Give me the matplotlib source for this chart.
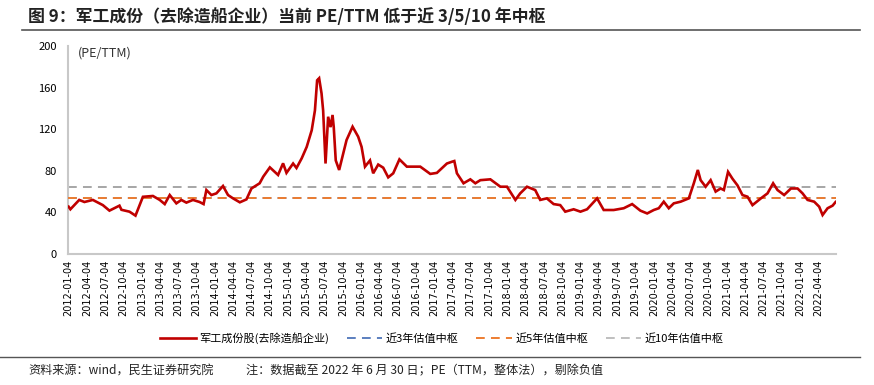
import matplotlib
matplotlib.use("Agg")
import matplotlib.pyplot as plt
import pandas as pd
from matplotlib.lines import Line2D

plt.rcParams['font.family'] = ['Noto Sans CJK SC', 'DejaVu Sans']

# ---------------- data ----------------
dates = [
    "2012-01-04", "2012-01-13", "2012-02-26", "2012-03-23", "2012-05-04", "2012-06-23",
    "2012-07-26", "2012-09-14", "2012-09-24", "2012-11-03", "2012-12-03", "2013-01-09",
    "2013-02-28", "2013-04-03", "2013-04-28", "2013-05-23", "2013-06-25", "2013-07-20",
    "2013-08-14", "2013-09-16", "2013-10-19", "2013-11-08", "2013-11-22", "2013-12-17",
    "2014-01-11", "2014-02-13", "2014-03-10", "2014-04-04", "2014-05-08", "2014-06-10",
    "2014-07-05", "2014-08-15", "2014-09-02", "2014-10-05", "2014-11-15", "2014-12-10",
    "2014-12-27", "2015-01-29", "2015-02-15", "2015-03-13", "2015-04-07", "2015-05-02",
    "2015-05-18", "2015-05-29", "2015-06-08", "2015-06-20", "2015-06-28", "2015-07-10",
    "2015-07-23", "2015-08-04", "2015-08-14", "2015-08-20", "2015-08-30", "2015-09-16",
    "2015-09-28", "2015-10-23", "2015-11-22", "2015-12-20", "2016-01-06", "2016-01-23",
    "2016-02-17", "2016-03-04", "2016-03-29", "2016-04-23", "2016-05-18", "2016-06-12",
    "2016-07-13", "2016-08-19", "2016-09-21", "2016-10-25", "2016-12-14", "2017-01-16",
    "2017-03-07", "2017-04-01", "2017-04-13", "2017-04-26", "2017-05-29", "2017-07-02",
    "2017-07-27", "2017-08-21", "2017-10-10", "2017-11-29", "2018-01-01", "2018-02-12",
    "2018-03-08", "2018-04-11", "2018-05-22", "2018-06-16", "2018-07-19", "2018-08-22",
    "2018-09-24", "2018-10-19", "2018-11-30", "2019-01-03", "2019-02-05", "2019-03-27",
    "2019-04-29", "2019-06-18", "2019-08-07", "2019-09-18", "2019-10-29", "2019-12-02",
    "2020-01-04", "2020-01-29", "2020-02-23", "2020-03-19", "2020-04-13", "2020-05-17",
    "2020-06-27", "2020-07-22", "2020-08-11", "2020-08-25", "2020-09-19", "2020-10-14",
    "2020-11-08", "2020-12-03", "2020-12-19", "2021-01-09", "2021-01-31", "2021-02-25",
    "2021-03-22", "2021-04-16", "2021-05-11", "2021-06-22", "2021-07-25", "2021-08-22",
    "2021-09-13", "2021-10-16", "2021-11-19", "2021-12-22", "2022-01-16", "2022-02-10",
    "2022-03-15", "2022-04-09", "2022-04-26", "2022-05-21", "2022-06-15", "2022-06-30",
]
pe_ttm = [
    45.5, 43.0, 52.0, 50.0, 52.0, 47.0,
    41.7, 46.5, 42.5, 40.7, 36.9, 55.0,
    55.8, 52.0, 48.0, 56.7, 48.7, 52.0,
    49.4, 52.0, 50.0, 48.0, 61.5, 56.7,
    58.3, 65.4, 56.7, 53.5, 49.7, 52.5,
    63.0, 68.0, 74.4, 83.3, 76.0, 87.2,
    78.0, 87.0, 82.7, 92.0, 103.0, 119.0,
    138.0, 167.0, 169.0, 154.5, 138.0, 87.0,
    132.0, 122.0, 133.7, 122.0, 90.0, 80.8,
    90.0, 109.6, 122.4, 112.8, 103.0, 84.0,
    90.0, 77.6, 86.0, 83.0, 73.7, 77.6,
    91.0, 84.0, 84.0, 84.0, 77.0, 78.0,
    87.0, 88.7, 89.4, 77.6, 68.0, 71.8,
    68.0, 71.0, 71.8, 64.7, 64.7, 52.0,
    58.3, 64.7, 61.5, 52.0, 53.5, 48.0,
    47.0, 40.7, 43.0, 40.7, 43.0, 53.5,
    42.3, 42.3, 44.0, 48.0, 41.7, 39.0,
    42.3, 44.0, 50.3, 44.0, 48.7, 50.3,
    53.5, 68.0, 80.8, 71.0, 64.7, 71.0,
    60.0, 63.0, 61.5, 79.0, 72.4, 66.0,
    56.7, 55.1, 47.0, 53.5, 58.3, 68.0,
    61.5, 56.7, 63.0, 63.0, 58.3, 52.0,
    50.3, 45.5, 37.5, 44.0, 46.5, 50.0,
]
median_3y = 54.0
median_5y = 54.3
median_10y = 64.4

tick_labels = [f"{y}-{m:02d}-04" for y in range(2012, 2023) for m in (1, 4, 7, 10)]
tick_labels = [t for t in tick_labels if t <= "2022-04-04"]

series_name = "军工成份股(去除造船企业)"
name_3y = "近3年估值中枢"
name_5y = "近5年估值中枢"
name_10y = "近10年估值中枢"
title = "图 9：军工成份（去除造船企业）当前 PE/TTM 低于近 3/5/10 年中枢"
source = "资料来源：wind，民生证券研究院"
note = "注：数据截至 2022 年 6 月 30 日；PE（TTM，整体法），剔除负值"

# ---------------- plot ----------------
W, H = 874, 385
fig = plt.figure(figsize=(W / 100, H / 100), dpi=100)
ax = fig.add_axes([68 / W, 1 - 254 / H, (836 - 68) / W, (254 - 46) / H])

x = pd.to_datetime(dates)
red, blue, orange, gray = "#C00000", "#5B7FBF", "#ED7D31", "#A6A6A6"
dash = (0, (4.5, 3.2))

ax.axhline(median_10y, color=gray, lw=1.4, ls=dash, zorder=2)
ax.axhline(median_3y, color=blue, lw=1.4, ls=dash, zorder=2)
ax.axhline(median_5y, color=orange, lw=1.4, ls=dash, zorder=3)
ax.plot(x, pe_ttm, color=red, lw=1.9, zorder=4, solid_joinstyle="miter")

start = pd.Timestamp("2012-01-04")
ax.set_xlim(start - pd.Timedelta(days=3), pd.Timestamp("2022-06-30") + pd.Timedelta(days=2))
ax.set_ylim(0, 200)
ax.set_yticks(range(0, 201, 40))
ax.tick_params(axis="y", length=0, labelsize=8, pad=8, colors="#000000")
ax.set_xticks(pd.to_datetime(tick_labels))
ax.set_xticklabels(tick_labels, rotation=90, fontsize=7, family=["DejaVu Sans"])
ax.tick_params(axis="x", length=0, pad=4)

for s in ("top", "right"):
    ax.spines[s].set_visible(False)
for s in ("left", "bottom"):
    ax.spines[s].set_color("#C8C8C8")
    ax.spines[s].set_linewidth(1.5)

ax.text(78 / W, 1 - 53 / H, "(PE/TTM)", transform=fig.transFigure, fontsize=9,
        va="center", ha="left", color="#333333")

# title + rules
fig.text(28 / W, 1 - 17 / H, title, fontsize=12.2, fontweight="bold", va="center",
         ha="left", color="#222222")
fig.add_artist(Line2D([22 / W, 860 / W], [1 - 30 / H] * 2, color="#555555", lw=1.2))
fig.add_artist(Line2D([0 / W, 860 / W], [1 - 357 / H] * 2, color="#555555", lw=1.0))
fig.text(28 / W, 1 - 371 / H, source, fontsize=8.7, va="center", ha="left", color="#222222")
fig.text(246 / W, 1 - 371 / H, note, fontsize=8.7, va="center", ha="left", color="#222222")

handles = [
    Line2D([], [], color=red, lw=1.9),
    Line2D([], [], color=blue, lw=1.4, ls=dash),
    Line2D([], [], color=orange, lw=1.4, ls=dash),
    Line2D([], [], color="#BFBFBF", lw=1.4, ls=dash),
]
fig.legend(handles, [series_name, name_3y, name_5y, name_10y], loc="center",
           bbox_to_anchor=(442 / W, 1 - 338 / H), ncol=4, frameon=False, fontsize=8,
           handlelength=3.2, handletextpad=0.3, columnspacing=1.6)

fig.savefig("out.png", dpi=100)
